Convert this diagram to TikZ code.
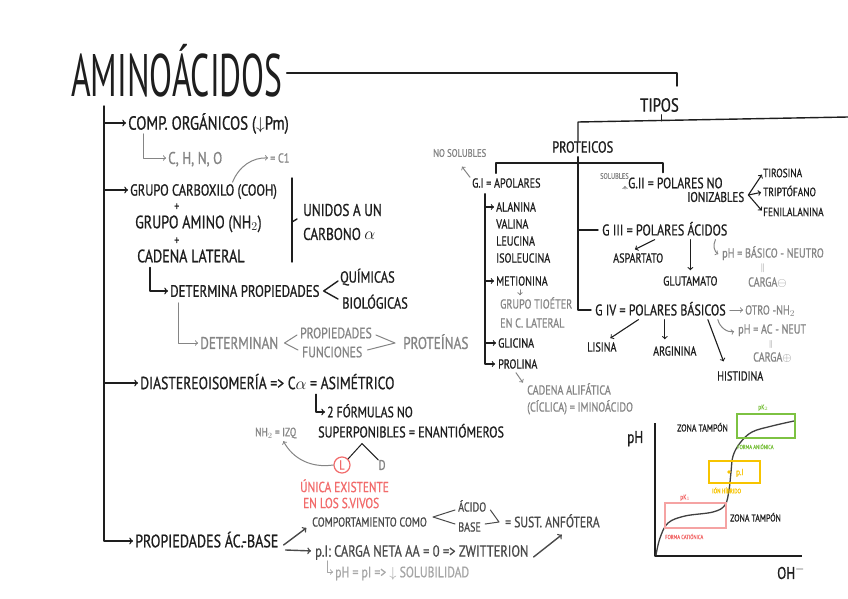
\documentclass[tikz,border=0pt]{standalone}
\usepackage{fontspec}
\usepackage{amsmath}
\setmainfont{PT Sans}
\newfontfamily\hand[FakeStretch=0.78,FakeBold=0.8]{PT Sans}
\newfontfamily\handtitle[FakeStretch=0.56]{PT Sans}
\usetikzlibrary{arrows,positioning,calc}

\definecolor{ink}{HTML}{1E1E1E}
\definecolor{pencil}{HTML}{858585}
\definecolor{darkpencil}{HTML}{4A4A4A}
\definecolor{lightpencil}{HTML}{A6A6A6}
\definecolor{salmon}{HTML}{F26B6B}
\definecolor{rosebox}{HTML}{F5A3A3}
\definecolor{limegreen}{HTML}{7DC242}
\definecolor{amber}{HTML}{F7C400}

\tikzset{
  hw/.style={font=\hand\fontsize{#1}{#1}\selectfont, text=ink,
    text height={0.7*#1pt}, text depth=0pt, inner sep=0pt, anchor=west},
  hw/.default=15,
  note/.style={hw=#1, text=pencil},
  note/.default=14,
  ln/.style={draw=ink, line width=1.4pt, line cap=round, line join=round},
  gln/.style={draw=pencil, line width=1pt, line cap=round, line join=round},
  arr/.style={ln, ->, shorten >=2pt},
  garr/.style={gln, ->, shorten >=2pt},
  zonebox/.style={line width=2.6pt},
}

\begin{document}
\begin{tikzpicture}[x=1pt,y=-1pt]
    \fill[white] (0,0) rectangle (848,599);
    \useasboundingbox (0,0) rectangle (848,599);

    % Title
    \node[font=\handtitle\fontsize{60}{60}\selectfont, text=ink, text height=42pt,
      text depth=0pt, inner sep=0pt, anchor=west] (title) at (71,76) {AMINOÁCIDOS};

    % Left column
    \node[hw=19] (comp) at (128,123) {COMP. ORGÁNICOS ($\downarrow$Pm)};
    \node[note=17] (chno) at (168,158) {C, H, N, O};
    \node[note=13] (cuno) at (270,158) {= C1};
    \node[hw=16] (carbox) at (130,190) {GRUPO CARBOXILO (COOH)};
    \node[hw=13] (plusa) at (174,206) {+};
    \node[hw=18] (amino) at (135,222) {GRUPO AMINO (NH$_2$)};
    \node[hw=13] (plusb) at (174,240) {+};
    \node[hw=18] (cadena) at (137,256) {CADENA LATERAL};
    \node[hw=17] (unidos) at (303,210) {UNIDOS A UN};
    \node[hw=17] (carbono) at (303,234) {CARBONO $\alpha$};
    \node[hw=16.5] (determina) at (170,291) {DETERMINA PROPIEDADES};
    \node[hw=16] (quimicas) at (340,277) {QUÍMICAS};
    \node[hw=16] (biologicas) at (342,303) {BIOLÓGICAS};
    \node[note=17] (determinan) at (200,343) {DETERMINAN};
    \node[note=15] (propied) at (300,333) {PROPIEDADES};
    \node[note=15] (funciones) at (302,352) {FUNCIONES};
    \node[note=17] (proteinas) at (403,343) {PROTEÍNAS};
    \node[hw=17.5] (diast) at (140,383) {DIASTEREOISOMERÍA => C$\alpha$ = ASIMÉTRICO};
    \node[hw=15] (formulas) at (327,412) {2 FÓRMULAS NO};
    \node[hw=15.5] (superp) at (318,432) {SUPERPONIBLES = ENANTIÓMEROS};
    \node[note=12] (nhizq) at (255,432) {NH$_2$ = IZQ};
    \node[hw=13, text=salmon, anchor=center, circle, draw=salmon, line width=1.2pt,
      inner sep=2pt] (formL) at (342,465) {L};
    \node[note=14, anchor=center] (formD) at (382,465) {D};
    \node[hw=14.5, text=salmon] (unica) at (300,487) {ÚNICA EXISTENTE};
    \node[hw=14.5, text=salmon] (vivos) at (303,503) {EN LOS S.VIVOS};
    \node[hw=18] (acbase) at (135,541) {PROPIEDADES ÁC.-BASE};
    \node[hw=13, text=darkpencil] (comport) at (312,522) {COMPORTAMIENTO COMO};
    \node[hw=13, text=darkpencil] (acido) at (458,507) {ÁCIDO};
    \node[hw=13, text=darkpencil] (base) at (458,527) {BASE};
    \node[hw=15, text=darkpencil] (anfotera) at (505,522) {= SUST. ANFÓTERA};
    \node[hw=16, text=darkpencil] (pI) at (315,551) {p.I: CARGA NETA AA = 0 => ZWITTERION};
    \node[hw=15, text=lightpencil] (solub) at (335,572) {pH = pI => $\downarrow$ SOLUBILIDAD};

    % Main trunk
    \coordinate (trunk) at (104,106);
    \draw[arr] (trunk) |- (acbase.west);
    \draw[arr] (trunk |- comp.west) -- (comp.west);
    \draw[arr] (trunk |- carbox.west) -- (carbox.west);
    \draw[arr] (trunk |- diast.west) -- (diast.west);

    % Composition and groups
    \draw[garr] ($(comp.south west)+(15,4)$) |- (chno.west);
    \draw[garr] ($(carbox.north)+(29,-2)$) to[bend left=35] (cuno.west);
    \draw[ln] ($(unidos.west)+(-11,-32)$) -- ($(unidos.west)+(-11,52)$);
    \draw[ln] ($(unidos.west)+(-11,12)$) -- ($(unidos.west)+(-6,9)$);
    \draw[arr] ($(cadena.south west)+(13,5)$) |- (determina.west);
    \draw[ln] ($(quimicas.west)+(-2,4)$) -- ($(determina.east)+(4,0)$) -- ($(biologicas.west)+(-4,-4)$);
    \draw[garr] ($(determina.south west)+(8,6)$) |- (determinan.west);
    \draw[gln] ($(propied.west)+(-3,2)$) -- ($(determinan.east)+(6,0)$) -- ($(funciones.west)+(-4,-2)$);
    \draw[gln] ($(propied.east)+(4,2)$) -- ($(proteinas.west)+(-8,0)$) -- ($(funciones.east)+(5,-2)$);

    % Isomerism
    \draw[arr] ($(diast.south west)+(176,5)$) |- (formulas.west);
    \coordinate (lambda) at ($(superp.south west)+(44,6)$);
    \draw[ln, line width=1pt] (formL.north east) -- (lambda) -- (formD.north west);
    \draw[garr] (formL.west) to[bend left=35] ($(nhizq.south east)+(-14,3)$);

    % Acid-base
    \draw[arr, draw=darkpencil] ($(acbase.east)+(5,4)$) -- ($(comport.south west)+(-4,0)$);
    \draw[arr, draw=darkpencil] ($(acbase.east)+(7,9)$) -- ($(pI.west)+(-2,0)$);
    \draw[gln, draw=darkpencil] ($(acido.west)+(-3,3)$) -- ($(comport.east)+(6,-5)$) -- ($(base.west)+(-3,-3)$);
    \draw[gln, draw=darkpencil] ($(acido.east)+(4,3)$) -- ($(anfotera.west)+(-6,0)$) -- ($(base.east)+(4,-3)$);
    \draw[arr, draw=darkpencil] ($(pI.east)+(5,6)$) -- ($(anfotera.south)+(11,6)$);
    \draw[garr, draw=lightpencil] ($(pI.south west)+(12,4)$) |- (solub.west);

    % Types
    \node[hw=19] (tipos) at (640,105) {TIPOS};
    \node[hw=16] (proteicos) at (552,147) {PROTEICOS};
    \coordinate (tl) at (677,73);
    \draw[ln] ($(title.east |- tl)+(4,0)$) -- (tl) -- (677,86);
    \coordinate (tp) at (578,122);
    \draw[ln] (848,117) -- (tp) -- (tp |- proteicos.north);
    \draw[ln] ($(tipos.south)+(2,3)$) -- ($(tipos.south)+(2,9)$);

    % Protein groups
    \node[hw=13] (gI) at (472,183) {G.I = APOLARES};
    \node[note=11] (nosol) at (433,153) {NO SOLUBLES};
    \node[hw=13] (alanina) at (496,207) {ALANINA};
    \node[hw=13] (valina) at (496,224) {VALINA};
    \node[hw=13] (leucina) at (496,241) {LEUCINA};
    \node[hw=13] (isoleucina) at (496,258) {ISOLEUCINA};
    \node[hw=13] (metionina) at (496,281) {METIONINA};
    \node[note=13] (tioetera) at (500,304) {GRUPO TIOÉTER};
    \node[note=13] (tioeterb) at (500,323) {EN C. LATERAL};
    \node[hw=13] (glicina) at (498,343) {GLICINA};
    \node[hw=13] (prolina) at (498,364) {PROLINA};
    \node[note=13] (alifa) at (527,390) {CADENA ALIFÁTICA};
    \node[note=13] (alifb) at (527,407) {(CÍCLICA) = IMINOÁCIDO};

    \node[hw=15] (gII) at (628,183) {G.II = POLARES NO};
    \node[hw=14] (ioniz) at (687,197) {IONIZABLES};
    \node[note=8] (solubles) at (600,176) {SOLUBLES};
    \node[hw=12] (tirosina) at (763,173) {TIROSINA};
    \node[hw=12] (triptofano) at (763,192) {TRIPTÓFANO};
    \node[hw=12] (fenil) at (763,212) {FENILALANINA};

    \node[hw=15.5] (gIII) at (602,230) {G III = POLARES ÁCIDOS};
    \node[hw=13] (aspartato) at (613,258) {ASPARTATO};
    \node[hw=13] (glutamato) at (663,281) {GLUTAMATO};
    \node[note=13] (phbas) at (722,253) {pH = BÁSICO - NEUTRO};
    \node[note=9, anchor=center] (eqa) at (763,267) {$\|$};
    \node[note=13] (cargaa) at (748,282) {CARGA$\ominus$};

    \node[hw=15.5] (gIV) at (595,310) {G IV = POLARES BÁSICOS};
    \node[note=13] (otro) at (745,310) {OTRO -NH$_2$};
    \node[note=13] (phac) at (738,329) {pH = AC - NEUT};
    \node[note=8, anchor=center] (eqb) at (771,344) {$\|$};
    \node[note=13] (cargab) at (753,357) {CARGA$\oplus$};
    \node[hw=13] (lisina) at (587,347) {LISINA};
    \node[hw=13] (arginina) at (653,351) {ARGININA};
    \node[hw=13] (histidina) at (717,376) {HISTIDINA};

    % Group bracket
    \coordinate (brl) at (496,163);
    \coordinate (brr) at (663,163);
    \coordinate (brm) at (578,163);
    \draw[ln] ($(brl |- gI.north)+(0,-5)$) -- (brl) -- (brr) -- ($(brr |- gII.north)+(0,-5)$);
    \draw[ln] ($(proteicos.south -| brm)+(0,4)$) |- ($(gIV.west)+(-4,0)$);
    \draw[ln] (brm |- gIII.west) -- ($(gIII.west)+(-4,0)$);

    % G.I list
    \draw[garr] ($(gI.north west)+(-2,-1)$) -- ($(nosol.south)+(1,8)$);
    \coordinate (gIt) at ($(gI.south west)+(13,6)$);
    \draw[arr, line width=1.1pt] (gIt) |- ($(prolina.west)+(-1,0)$);
    \draw[arr, line width=1.1pt] (gIt |- alanina.west) -- (alanina.west);
    \draw[arr, line width=1.1pt] (gIt |- metionina.west) -- (metionina.west);
    \draw[arr, line width=1.1pt] (gIt |- glicina.west) -- (glicina.west);
    \draw[garr] ($(metionina.south west)+(24,4)$) -- ($(tioetera.north west)+(20,-2)$);
    \draw[garr] ($(prolina.south west)+(18,4)$) -- ($(alifa.north west)+(-3,-1)$);

    % G.II links
    \draw[garr] ($(gII.west)+(-3,6)$) -- ($(solubles.south east)+(-4,5)$);
    \coordinate (gIIo) at ($(ioniz.east)+(4,-2)$);
    \draw[arr, line width=1.1pt] (gIIo) -- (tirosina.west);
    \draw[arr, line width=1.1pt] (gIIo) -- (triptofano.west);
    \draw[arr, line width=1.1pt] (gIIo) -- (fenil.west);

    % G.III links
    \draw[arr, line width=1.1pt] ($(gIII.south)+(-10,4)$) -- ($(aspartato.north)+(-5,-3)$);
    \draw[arr, line width=1.1pt] (gIII.south -| glutamato.north) ++(0,4) -- ($(glutamato.north)+(0,-4)$);
    \draw[garr] ($(gIII.south east)+(-12,4)$) to[bend right=45] ($(phbas.west)+(-2,2)$);

    % G.IV links
    \draw[garr] ($(gIV.east)+(4,0)$) -- (otro.west);
    \draw[garr] ($(gIV.south east)+(-8,4)$) to[bend right=45] ($(phac.west)+(-2,2)$);
    \draw[arr, line width=1.1pt] ($(gIV.south)+(-22,4)$) -- ($(lisina.north east)+(-8,-3)$);
    \draw[arr, line width=1.1pt] ($(gIV.south -| arginina.north)+(-10,4)$) -- ($(arginina.north)+(-10,-5)$);
    \draw[arr, line width=1.1pt] ($(gIV.south east)+(-18,4)$) -- ($(histidina.north)+(-16,-8)$);

    % Titration curve
    \coordinate (ytop) at (655,423);
    \coordinate (orig) at (655,556);
    \coordinate (xend) at (802,556);
    \draw[ln, line width=1.3pt, line cap=butt] (ytop) -- (orig) -- (xend);
    \node[hw=17] (phaxis) at (627,437) {pH};
    \node[hw=17] (ohaxis) at (777,573) {OH$^{-}$};
    \draw[ink!85, line width=1.3pt] plot[smooth, tension=0.6] coordinates {(656,555) (660,538) (668,523)
      (685,516) (713,512) (725,505) (729,490) (731,472) (733,456) (740,443) (752,432) (772,426) (794,421)};
    \draw[zonebox, limegreen] (737,414) rectangle (795,438);
    \draw[zonebox, amber] (709,461) rectangle (760,483);
    \draw[zonebox, rosebox] (665,503) rectangle (726,528);
    \fill[amber] (729,472) circle (1.8);
    \node[hw=10] (zonaa) at (677,428) {ZONA TAMPÓN};
    \node[hw=10] (zonab) at (730,518) {ZONA TAMPÓN};
    \node[hw=7, text=limegreen] (pkb) at (758,407) {pK$_2$};
    \node[hw=6, text=limegreen] (anion) at (737,447) {FORMA ANIÓNICA};
    \node[hw=9, text=amber] (pinode) at (736,472) {p.I};
    \node[hw=6.5, text=amber] (hibrido) at (712,491) {IÓN HÍBRIDO};
    \node[hw=7, text=salmon] (pka) at (680,497) {pK$_1$};
    \node[hw=6, text=salmon] (cation) at (665,537) {FORMA CATIÓNICA};
\end{tikzpicture}
\end{document}
